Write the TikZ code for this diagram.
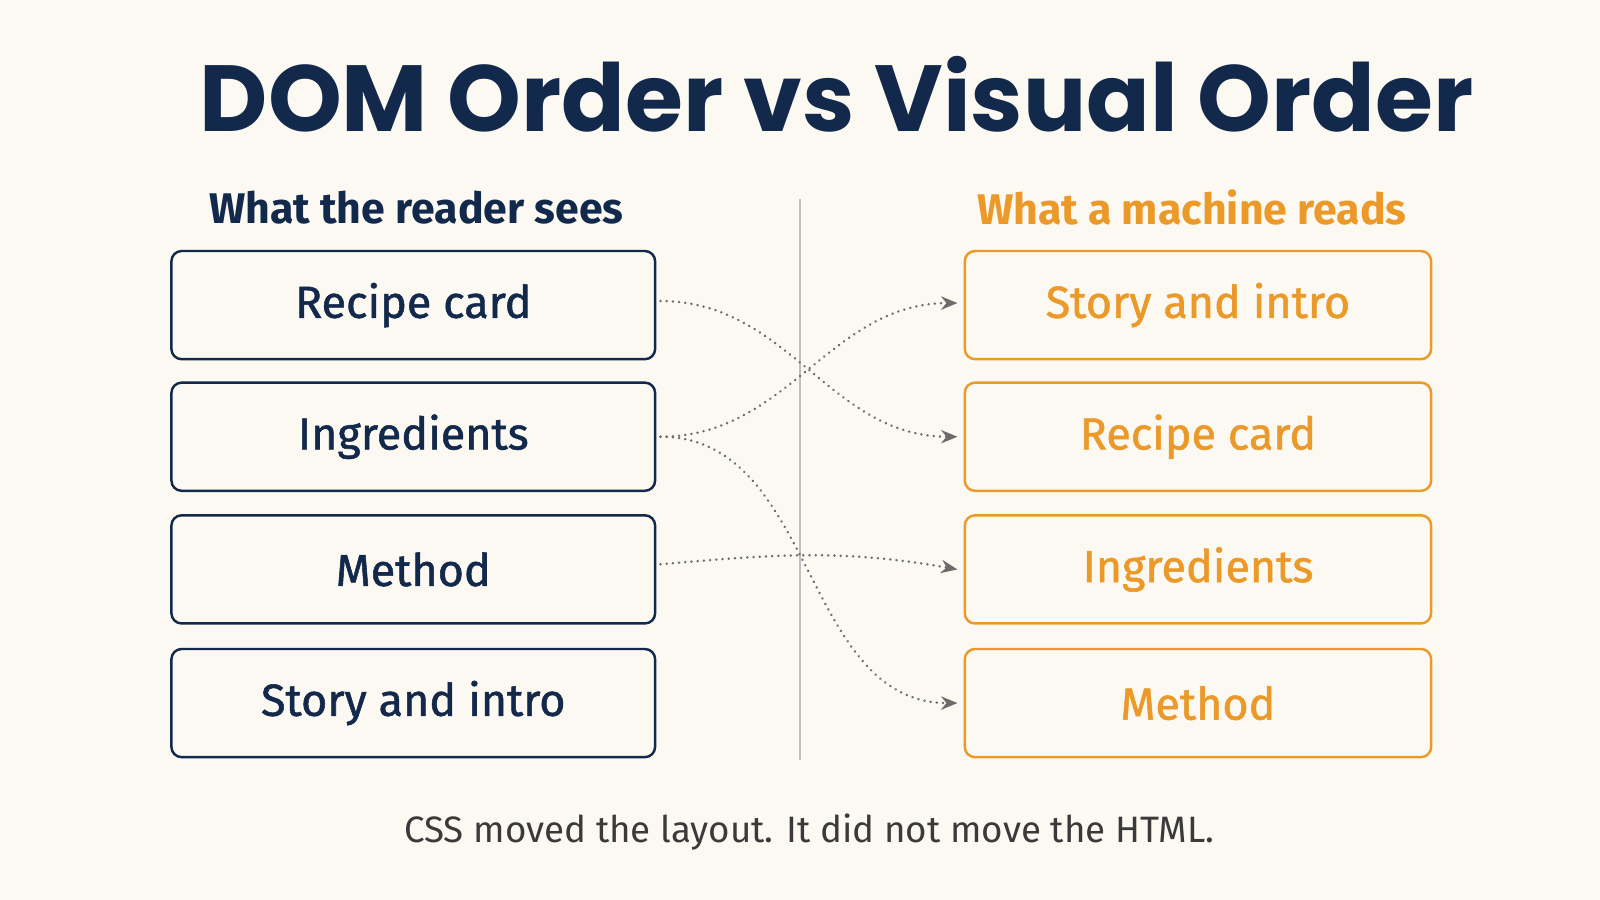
\documentclass[tikz,border=0pt]{standalone}
\usepackage{fontspec}
\setmainfont{Fira Sans}
\newfontfamily\titlefont{Poppins}
\newfontfamily\boxfont{Fira Sans}[FakeBold=1.2]
\usetikzlibrary{arrows.meta}
\definecolor{bg}{HTML}{FCF9F3}
\definecolor{navy}{HTML}{13294B}
\definecolor{org}{HTML}{EB9A2A}
\definecolor{captext}{HTML}{3A3A3A}
\begin{document}
\begin{tikzpicture}[x=1pt,y=1pt,
  lbox/.style={draw=navy,line width=2.4pt,rounded corners=10pt,minimum width=474pt,minimum height=106pt,text=navy,font=\boxfont\fontsize{44}{50}\selectfont},
  rbox/.style={draw=org,line width=2.4pt,rounded corners=10pt,minimum width=457pt,minimum height=106pt,text=org,font=\boxfont\fontsize{44}{50}\selectfont},
  con/.style={draw=gray!85!black,line width=2.6pt,line cap=round,dash pattern=on 0.1pt off 6pt,-{Stealth[length=16pt,width=13pt,fill=gray!85!black,line cap=butt]}}]
\fill[bg] (0,0) rectangle (1568,-882);
\useasboundingbox (0,0) rectangle (1568,-882);
\node[navy,font=\titlefont\bfseries\fontsize{92}{100}\selectfont] (title) at (820,-92) {DOM Order vs Visual Order};
\node[navy,font=\fontsize{42}{48}\selectfont\bfseries] (hl) at (408,-203) {What the reader sees};
\node[org,font=\fontsize{42}{48}\selectfont\bfseries] (hr) at (1168,-203) {What a machine reads};
\draw[gray!50,line width=2pt] (784,-195) coordinate (d1) -- (784,-745) coordinate (d2);
\node[lbox] (l1) at (405,-299) {Recipe card};
\node[lbox] (l2) at (405,-428) {Ingredients};
\node[lbox] (l3) at (405,-558) {Method};
\node[lbox] (l4) at (405,-689) {Story and intro};
\node[rbox] (r1) at (1174,-299) {Story and intro};
\node[rbox] (r2) at (1174,-428) {Recipe card};
\node[rbox] (r3) at (1174,-558) {Ingredients};
\node[rbox] (r4) at (1174,-689) {Method};
\draw[con] ([xshift=4pt,yshift=4pt]l1.east) to[out=0,in=180] ([xshift=-6pt]r2.west);
\draw[con] ([xshift=4pt]l2.east) to[out=0,in=180] ([xshift=-6pt,yshift=2pt]r1.west);
\draw[con] ([xshift=4pt]l2.east) to[out=0,in=180] ([xshift=-6pt]r4.west);
\draw[con] ([xshift=4pt,yshift=5pt]l3.east) to[out=5,in=170] ([xshift=-6pt]r3.west);
\node[captext,font=\fontsize{36}{42}\selectfont] (caption) at (793,-815) {CSS moved the layout. It did not move the HTML.};
\end{tikzpicture}
\end{document}
